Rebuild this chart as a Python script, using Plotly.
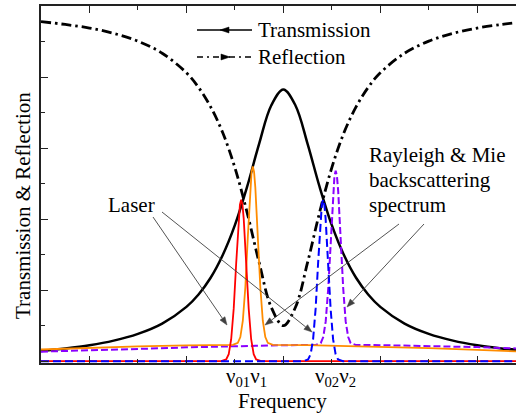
import math
import plotly.graph_objects as go

# ---- curves (frequency in arbitrary units, normalised intensity) ----
trans_x = [0, 0.5, 1, 1.5, 2, 2.5, 3, 3.25, 3.5, 3.75, 4, 4.25, 4.5, 4.75, 5,
           5.25, 5.5, 5.75, 6, 6.25, 6.5, 6.75, 7, 7.5, 8, 8.5, 9, 9.5, 9.8]
trans_y = [0.029, 0.036, 0.045, 0.058, 0.077, 0.106, 0.153, 0.188, 0.235, 0.299,
           0.383, 0.490, 0.612, 0.720, 0.765, 0.720, 0.612, 0.490, 0.383, 0.299,
           0.235, 0.188, 0.153, 0.106, 0.077, 0.058, 0.045, 0.036, 0.032]

refl_x = trans_x
refl_y = [0.956, 0.948, 0.938, 0.923, 0.901, 0.867, 0.812, 0.771, 0.716, 0.643,
          0.545, 0.420, 0.278, 0.152, 0.100, 0.152, 0.278, 0.420, 0.545, 0.643,
          0.716, 0.771, 0.812, 0.867, 0.901, 0.923, 0.938, 0.948, 0.953]

laser0_x = [0, 3.718, 3.821, 3.873, 3.924, 3.976, 4.027, 4.079, 4.104, 4.130,
            4.156, 4.182, 4.233, 4.285, 4.336, 4.388, 4.439, 4.542, 9.8]
laser0_y = [0, 0, 0.005, 0.020, 0.062, 0.148, 0.276, 0.402, 0.441, 0.455,
            0.441, 0.402, 0.276, 0.148, 0.062, 0.020, 0.005, 0, 0]

laser2_x = [0, 5.408, 5.511, 5.563, 5.614, 5.666, 5.717, 5.769, 5.794, 5.820,
            5.846, 5.872, 5.923, 5.975, 6.026, 6.078, 6.129, 6.232, 9.8]
laser2_y = laser0_y

scat1_x = [0, 1, 2, 3, 3.958, 4.061, 4.113, 4.164, 4.216, 4.267, 4.319, 4.344,
           4.370, 4.396, 4.422, 4.473, 4.525, 4.576, 4.628, 4.679, 4.782,
           5.5, 6, 7, 8, 9, 9.8]
scat1_y = [0.033, 0.038, 0.042, 0.0445, 0.046, 0.052, 0.068, 0.114, 0.209, 0.350,
           0.489, 0.533, 0.548, 0.533, 0.489, 0.350, 0.209, 0.114, 0.068, 0.052,
           0.046, 0.0452, 0.0439, 0.0408, 0.0367, 0.0318, 0.0277]

scat2_x = [0, 1, 2, 3, 4, 5, 5.668, 5.771, 5.823, 5.874, 5.926, 5.977, 6.029,
           6.054, 6.080, 6.106, 6.132, 6.183, 6.235, 6.286, 6.338, 6.389, 6.492,
           7, 8, 9, 9.8]
scat2_y = [0.027, 0.030, 0.0345, 0.039, 0.0427, 0.0451, 0.046, 0.051, 0.068,
           0.112, 0.205, 0.343, 0.478, 0.521, 0.536, 0.521, 0.478, 0.343, 0.205,
           0.112, 0.068, 0.051, 0.046, 0.0453, 0.0432, 0.0397, 0.036]

# frequency label pairs under the peaks
freq_labels = ["ν<sub>01</sub>ν<sub>1</sub>", "ν<sub>02</sub>ν<sub>2</sub>"]
freq_label_x = [4.24, 6.08]

FONT = "Liberation Serif, Times New Roman, serif"
W, H = 516, 417
L, R, T, B = 41, 0, 6, 54
PW, PH = W - L - R, H - T - B


def px(xp):
    return (xp - L) / PW


def py(yp):
    return (H - B - yp) / PH


fig = go.Figure()
fig.add_trace(go.Scatter(x=trans_x, y=trans_y, mode="lines", line_shape="spline",
                         line=dict(color="black", width=2.5)))
fig.add_trace(go.Scatter(x=refl_x, y=refl_y, mode="lines", line_shape="spline",
                         line=dict(color="black", width=2.8, dash="10px,4px,2.5px,4px")))
fig.add_trace(go.Scatter(x=scat2_x, y=scat2_y, mode="lines",
                         line=dict(color="#8a00ff", width=2, dash="7px,3px")))
fig.add_trace(go.Scatter(x=scat1_x, y=scat1_y, mode="lines",
                         line=dict(color="#ff8c00", width=1.8)))
fig.add_trace(go.Scatter(x=laser0_x, y=laser0_y, mode="lines",
                         line=dict(color="#ff0000", width=1.8)))
fig.add_trace(go.Scatter(x=laser2_x, y=laser2_y, mode="lines",
                         line=dict(color="#0000ff", width=2, dash="8px,4px")))

annotations = []
txt = dict(family=FONT, size=21, color="black")

# axis titles
annotations.append(dict(text="Frequency", xref="paper", yref="paper", x=px(282), y=py(401),
                        xanchor="center", yanchor="middle", showarrow=False, font=txt))
annotations.append(dict(text="Transmission &amp; Reflection", xref="paper", yref="paper",
                        x=px(23), y=py(206), textangle=-90, xanchor="center",
                        yanchor="middle", showarrow=False, font=txt))

for lab, lx in zip(freq_labels, freq_label_x):
    annotations.append(dict(text=lab, xref="x", yref="paper", x=lx, y=py(377),
                            xanchor="center", yanchor="middle", showarrow=False, font=txt))

# callouts
annotations.append(dict(text="Laser", xref="paper", yref="paper", x=px(106), y=py(205),
                        xanchor="left", yanchor="middle", showarrow=False, font=txt))
for i, line in enumerate(["Rayleigh &amp; Mie", "backscattering", "spectrum"]):
    annotations.append(dict(text=line, xref="paper", yref="paper", x=px(367),
                            y=py(155 + 25 * i), xanchor="left", yanchor="middle",
                            showarrow=False, font=txt))

shapes = []

# callout arrows, (tail, head) in pixel positions of the plot
arrows = [((153, 217), (227, 325)),
          ((162, 212), (312, 332)),
          ((399, 224), (265, 325)),
          ((424, 224), (347, 307))]
ARROW_C = "#404040"
for (tx, ty), (hx, hy) in arrows:
    ang = math.atan2(hy - ty, hx - tx)
    hl, hw = 8.0, 3.0
    bx, by = hx - hl * math.cos(ang), hy - hl * math.sin(ang)
    nx, ny = -math.sin(ang) * hw, math.cos(ang) * hw
    shapes.append(dict(type="line", xref="paper", yref="paper",
                       x0=px(tx), y0=py(ty), x1=px(bx), y1=py(by),
                       line=dict(color=ARROW_C, width=0.9)))
    shapes.append(dict(type="path", xref="paper", yref="paper",
                       path=(f"M {px(hx)},{py(hy)} L {px(bx + nx)},{py(by + ny)} "
                             f"L {px(bx - nx)},{py(by - ny)} Z"),
                       fillcolor=ARROW_C, line=dict(color=ARROW_C, width=0.5)))

# legend
annotations.append(dict(text="Transmission", xref="paper", yref="paper", x=px(256), y=py(30),
                        xanchor="left", yanchor="middle", showarrow=False, font=txt))
annotations.append(dict(text="Reflection", xref="paper", yref="paper", x=px(256), y=py(57),
                        xanchor="left", yanchor="middle", showarrow=False, font=txt))

shapes += [
    dict(type="line", xref="paper", yref="paper", x0=px(197), x1=px(252), y0=py(30), y1=py(30),
         line=dict(color="black", width=1.6)),
    dict(type="path", xref="paper", yref="paper",
         path=f"M {px(220)},{py(30)} L {px(229)},{py(27)} L {px(229)},{py(33)} Z",
         fillcolor="black", line=dict(color="black", width=0.5)),
    dict(type="line", xref="paper", yref="paper", x0=px(197), x1=px(252), y0=py(57), y1=py(57),
         line=dict(color="black", width=1.6, dash="6px,4px,2px,4px")),
    dict(type="path", xref="paper", yref="paper",
         path=f"M {px(230)},{py(57)} L {px(221)},{py(54)} L {px(221)},{py(60)} Z",
         fillcolor="black", line=dict(color="black", width=0.5)),
]

axis_common = dict(showgrid=False, zeroline=False, showticklabels=False,
                   showline=True, linecolor="#222", linewidth=1.5,
                   ticks="inside", ticklen=7, tickwidth=1.3, tickcolor="#222")

fig.update_layout(
    width=W, height=H, margin=dict(l=L, r=R, t=T, b=B),
    paper_bgcolor="white", plot_bgcolor="white", showlegend=False,
    xaxis=dict(range=[0, 9.8], tick0=1, dtick=2, mirror="ticks",
               minor=dict(tick0=0, dtick=1, ticks="inside", ticklen=4,
                          tickwidth=1.2, tickcolor="#222"),
               **axis_common),
    yaxis=dict(range=[-0.005, 1.0], tick0=0, dtick=0.2, mirror=False,
               minor=dict(tick0=0, dtick=0.1, ticks="inside", ticklen=4,
                          tickwidth=1.2, tickcolor="#222"),
               **axis_common),
    annotations=annotations, shapes=shapes,
)

fig.write_html("out.html")
